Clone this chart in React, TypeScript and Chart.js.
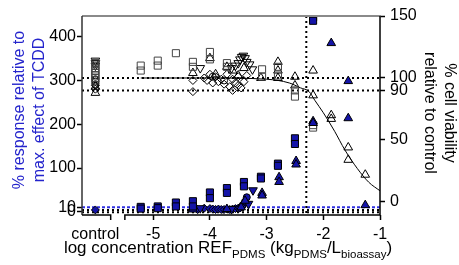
import React, { useEffect, useRef } from 'react';
import { Chart, registerables } from 'chart.js';

Chart.register(...registerables);

const FONT = '"Liberation Sans", Arial, Helvetica, sans-serif';
const BLUE_FILL = '#1414a8';
const BLUE_TEXT = '#2424cc';

// ---- axes ----
const CONTROL_X = -6.02;
const X_MIN = -6.256;
const X_MAX = -1;
const Y_MIN = -7.6;
const Y_MAX = 448;
const Y2_MIN = -10.5;
const Y2_MAX = 150;
const BREAK_FROM = -5.75;
const BREAK_TO = -5.5;

const xTickValues = [CONTROL_X, -5, -4, -3, -2, -1];
const leftTickValues = [0, 10, 100, 200, 300, 400];
const rightTickValues = [0, 50, 90, 100, 150];

// ---- reference lines ----
const viabilityRefLines = [100, 90];
const responseRefBlue = 10;
const responseRefBlack = [4, -1.5];
const verticalRefX = -2.3;

// ---- response (% of max TCDD), left axis, filled blue markers ----
const respSquareX = [-5.22, -5.22, -4.92, -4.92, -4.6, -4.6, -4.3, -4.3, -4.0, -4.0, -3.7, -3.7, -3.4, -3.4, -3.1, -3.1, -2.8, -2.8, -2.5, -2.5, -2.18, -2.18];
const respSquareY = [11, 7, 12, 8, 21, 12, 24, 12, 44, 31, 54, 43, 68, 58, 80, 76, 110, 105, 168, 155, 445, 437];

const respTriUpX = [-4.3, -3.7, -3.45, -3.38, -3.08, -3.08, -2.78, -2.78, -2.48, -2.48, -2.18, -2.18, -1.86, -1.56, -1.56, -1.26];
const respTriUpY = [5, 6, 10, 25, 43, 37, 79, 68, 116, 108, 207, 203, 386, 299, 214, 15];

const respTriDownX = [-4.17, -3.62, -3.32, -3.24];
const respTriDownY = [8, 6, 18, 49];

const respDiamondX = [CONTROL_X, -4.3, -4.22, -4.1, -4.0, -3.95, -3.9, -3.85, -3.8, -3.75, -3.7, -3.65, -3.6, -3.55, -3.5, -3.47, -3.44];
const respDiamondY = [4, 6, 5, 8, 7, 6, 5, 6, 5, 5, 6, 5, 6, 7, 8, 9, 12];

const respCircleX = [-3.5, -3.45, -3.42, -3.38, -3.35];
const respCircleY = [7, 10, 15, 23, 33];

// ---- cell viability (% of control), right axis, open markers ----
const viaSquareX = [CONTROL_X, CONTROL_X, CONTROL_X, CONTROL_X, CONTROL_X, CONTROL_X, CONTROL_X, CONTROL_X, -5.22, -5.22, -4.92, -4.92, -4.6, -4.3, -4.3, -4.0, -4.0, -3.7, -3.7, -3.08, -3.08, -2.8, -2.8, -2.5, -2.5, -2.18, -2.18];
const viaSquareY = [112, 110, 108, 106, 104, 102, 100, 98, 110, 106, 114, 110, 120, 113, 109, 121, 115, 112, 109, 107, 101, 109, 102, 90, 85, 62, 60];

const viaTriUpX = [CONTROL_X, CONTROL_X, -4.3, -4.0, -3.9, -3.7, -3.6, -3.5, -3.4, -3.1, -2.8, -2.8, -2.8, -2.5, -2.5, -2.18, -2.18, -1.86, -1.86, -1.56, -1.56, -1.26];
const viaTriUpY = [88, 93, 104, 116, 103, 109, 106, 102, 108, 100, 113, 106, 100, 101, 94, 106, 86, 70, 67, 44, 34, 22];

const viaTriDownX = [CONTROL_X, CONTROL_X, CONTROL_X, -4.17, -3.62, -3.55, -3.5, -3.47, -3.44, -3.41, -3.38, -3.35, -3.3, -3.25];
const viaTriDownY = [114, 112, 110, 108, 108, 110, 112, 115, 117, 118, 116, 113, 111, 107];

const viaDiamondX = [CONTROL_X, CONTROL_X, -4.3, -4.3, -4.1, -4.05, -4.0, -3.95, -3.9, -3.85, -3.8, -3.75, -3.7, -3.65, -3.6, -3.6, -3.55, -3.5, -3.5, -3.45, -3.4, -3.35];
const viaDiamondY = [94, 91, 98, 89, 100, 98, 103, 96, 101, 97, 99, 95, 103, 93, 99, 90, 96, 94, 101, 92, 97, 102];

const viaCircleX = [CONTROL_X, CONTROL_X, CONTROL_X, -3.95, -3.75];
const viaCircleY = [95, 97, 99, 101, 98];

// ---- fitted viability curve ----
const fitX = [-5.22, -4.0, -3.0, -2.6, -2.4, -2.25, -2.15, -2.0, -1.8, -1.62, -1.4, -1.2, -1.0];
const fitY = [100, 100, 99, 96, 92, 89, 82, 72, 57, 42, 27, 16, 9];

const zip = (xs: number[], ys: number[]) => xs.map((x, i) => ({ x, y: ys[i] }));

const decorPlugin = {
  id: 'decor',
  beforeDatasetsDraw(chart: any) {
    const { ctx, chartArea: a, scales } = chart;
    const xs = scales.x, ys = scales.y, y2 = scales.y2;
    ctx.save();
    ctx.lineCap = 'butt';
    const hline = (py: number, color: string, dash: number[]) => {
      ctx.beginPath();
      ctx.setLineDash(dash);
      ctx.strokeStyle = color;
      ctx.lineWidth = 2;
      ctx.moveTo(a.left, py);
      ctx.lineTo(a.right, py);
      ctx.stroke();
    };
    viabilityRefLines.forEach((v) => hline(y2.getPixelForValue(v), '#000', [2, 3]));
    responseRefBlack.forEach((v) => hline(ys.getPixelForValue(v), '#000', [2, 3]));
    hline(ys.getPixelForValue(responseRefBlue), '#3030e0', [3, 2]);
    const vx = xs.getPixelForValue(verticalRefX);
    ctx.beginPath();
    ctx.setLineDash([2, 3]);
    ctx.strokeStyle = '#000';
    ctx.lineWidth = 2;
    ctx.moveTo(vx, a.top);
    ctx.lineTo(vx, a.bottom);
    ctx.stroke();
    ctx.restore();
  },
  afterDraw(chart: any) {
    const { ctx, chartArea: a, scales } = chart;
    const xs = scales.x;
    ctx.save();
    ctx.setLineDash([]);
    // top frame
    ctx.strokeStyle = '#8a8a8a';
    ctx.lineWidth = 2;
    ctx.beginPath();
    ctx.moveTo(a.left, a.top);
    ctx.lineTo(a.right + 1, a.top);
    ctx.stroke();
    // left / right axes
    ctx.strokeStyle = '#333';
    ctx.lineWidth = 1.5;
    ctx.beginPath();
    ctx.moveTo(a.left, a.top);
    ctx.lineTo(a.left, a.bottom);
    ctx.stroke();
    ctx.strokeStyle = '#000';
    ctx.beginPath();
    ctx.moveTo(a.right, a.top);
    ctx.lineTo(a.right, a.bottom);
    ctx.stroke();
    // bottom axis with break
    const b1 = xs.getPixelForValue(BREAK_FROM);
    const b2 = xs.getPixelForValue(BREAK_TO);
    ctx.beginPath();
    ctx.moveTo(a.left, a.bottom);
    ctx.lineTo(b1, a.bottom);
    ctx.lineTo(b1, a.bottom + 5);
    ctx.moveTo(b2, a.bottom + 5);
    ctx.lineTo(b2, a.bottom);
    ctx.lineTo(a.right, a.bottom);
    ctx.stroke();

    // axis titles
    ctx.textBaseline = 'alphabetic';
    ctx.textAlign = 'center';
    ctx.font = `16px ${FONT}`;
    // left
    ctx.fillStyle = BLUE_TEXT;
    ctx.save();
    ctx.translate(23.5, 110);
    ctx.rotate(-Math.PI / 2);
    ctx.fillText('% response relative to', 0, 0);
    ctx.restore();
    ctx.save();
    ctx.translate(44, 110);
    ctx.rotate(-Math.PI / 2);
    ctx.fillText('max. effect of TCDD', 0, 0);
    ctx.restore();
    // right
    ctx.fillStyle = '#000';
    ctx.save();
    ctx.translate(445, 113);
    ctx.rotate(Math.PI / 2);
    ctx.fillText('% cell viability', 0, 0);
    ctx.restore();
    ctx.save();
    ctx.translate(424.5, 113);
    ctx.rotate(Math.PI / 2);
    ctx.fillText('relative to control', 0, 0);
    ctx.restore();

    // x title with subscripts
    const mainFont = `17px ${FONT}`;
    const subFont = `11.5px ${FONT}`;
    const parts: [string, boolean][] = [
      ['log concentration REF', false],
      ['PDMS', true],
      [' (kg', false],
      ['PDMS', true],
      ['/L', false],
      ['bioassay', true],
      [')', false],
    ];
    let total = 0;
    parts.forEach(([t, sub]) => {
      ctx.font = sub ? subFont : mainFont;
      total += ctx.measureText(t).width;
    });
    let cx = 228 - total / 2;
    ctx.textAlign = 'left';
    ctx.fillStyle = '#000';
    parts.forEach(([t, sub]) => {
      ctx.font = sub ? subFont : mainFont;
      ctx.fillText(t, cx, sub ? 257.5 : 253);
      cx += ctx.measureText(t).width;
    });
    ctx.restore();
  },
};

export default function App() {
  const ref = useRef<HTMLCanvasElement | null>(null);
  useEffect(() => {
    document.body.style.margin = '0';
    const canvas = ref.current;
    if (!canvas) return;
    const openBase = {
      yAxisID: 'y2',
      backgroundColor: 'rgba(0,0,0,0)',
      borderColor: '#000',
      pointBorderWidth: 1,
    };
    const blueBase = {
      yAxisID: 'y',
      backgroundColor: BLUE_FILL,
      borderColor: '#000',
      pointBorderWidth: 1,
    };
    const chart = new Chart(canvas, {
      type: 'scatter',
      data: {
        datasets: [
          { ...blueBase, label: 'resp squares', data: zip(respSquareX, respSquareY), pointStyle: 'rect', pointRadius: 5 },
          { ...blueBase, label: 'resp triangles', data: zip(respTriUpX, respTriUpY), pointStyle: 'triangle', pointRadius: 5 },
          { ...blueBase, label: 'resp inv triangles', data: zip(respTriDownX, respTriDownY), pointStyle: 'triangle', rotation: 180, pointRadius: 5 },
          { ...blueBase, label: 'resp diamonds', data: zip(respDiamondX, respDiamondY), pointStyle: 'rectRot', pointRadius: 4 },
          { ...blueBase, label: 'resp circles', data: zip(respCircleX, respCircleY), pointStyle: 'circle', pointRadius: 3.5 },
          { ...openBase, label: 'via squares', data: zip(viaSquareX, viaSquareY), pointStyle: 'rect', pointRadius: 5, borderColor: '#444' },
          { ...openBase, label: 'via triangles', data: zip(viaTriUpX, viaTriUpY), pointStyle: 'triangle', pointRadius: 5 },
          { ...openBase, label: 'via inv triangles', data: zip(viaTriDownX, viaTriDownY), pointStyle: 'triangle', rotation: 180, pointRadius: 5 },
          { ...openBase, label: 'via diamonds', data: zip(viaDiamondX, viaDiamondY), pointStyle: 'rectRot', pointRadius: 4 },
          { ...openBase, label: 'via circles', data: zip(viaCircleX, viaCircleY), pointStyle: 'circle', pointRadius: 3.5 },
          {
            label: 'fit',
            yAxisID: 'y2',
            data: zip(fitX, fitY),
            showLine: true,
            borderColor: '#000',
            borderWidth: 1,
            pointRadius: 0,
            cubicInterpolationMode: 'monotone',
            fill: false,
          },
        ],
      },
      options: {
        responsive: false,
        animation: false,
        devicePixelRatio: 1,
        events: [],
        layout: { padding: { top: 16, left: 0, right: 0, bottom: 0 } },
        plugins: { legend: { display: false }, tooltip: { enabled: false } },
        scales: {
          x: {
            type: 'linear',
            position: 'bottom',
            min: X_MIN,
            max: X_MAX,
            afterBuildTicks: (s: any) => {
              s.ticks = xTickValues.map((v) => ({ value: v }));
            },
            afterFit: (s: any) => {
              s.height = 50;
            },
            ticks: {
              autoSkip: false,
              maxRotation: 0,
              padding: 5,
              color: '#000',
              font: { family: FONT, size: 16 },
              callback: (v: any) => (v === CONTROL_X ? 'control' : String(v)),
            },
            grid: {
              drawOnChartArea: false,
              tickLength: 5,
              tickWidth: 1.5,
              tickColor: (c: any) => (c.tick && c.tick.value === CONTROL_X ? 'rgba(0,0,0,0)' : '#000'),
            },
            border: { display: false },
          },
          y: {
            type: 'linear',
            position: 'left',
            min: Y_MIN,
            max: Y_MAX,
            afterBuildTicks: (s: any) => {
              s.ticks = leftTickValues.map((v) => ({ value: v }));
            },
            afterFit: (s: any) => {
              s.width = 82;
            },
            ticks: {
              autoSkip: false,
              padding: 1,
              color: '#000',
              font: { family: FONT, size: 16 },
              callback: (v: any) => String(v),
            },
            grid: { drawOnChartArea: false, tickLength: 5, tickWidth: 1.5, tickColor: '#000' },
            border: { display: false },
          },
          y2: {
            type: 'linear',
            position: 'right',
            min: Y2_MIN,
            max: Y2_MAX,
            afterBuildTicks: (s: any) => {
              s.ticks = rightTickValues.map((v) => ({ value: v }));
            },
            afterFit: (s: any) => {
              s.width = 79;
            },
            ticks: {
              autoSkip: false,
              padding: 5,
              color: '#000',
              font: { family: FONT, size: 16 },
              callback: (v: any) => String(v),
            },
            grid: { drawOnChartArea: false, tickLength: 5, tickWidth: 1.5, tickColor: '#000' },
            border: { display: false },
          },
        },
      },
      plugins: [decorPlugin],
    } as any);
    return () => chart.destroy();
  }, []);
  return (
    <div style={{ width: 459, height: 265 }}>
      <canvas ref={ref} width={459} height={265} style={{ width: 459, height: 265, display: 'block' }} />
    </div>
  );
}
